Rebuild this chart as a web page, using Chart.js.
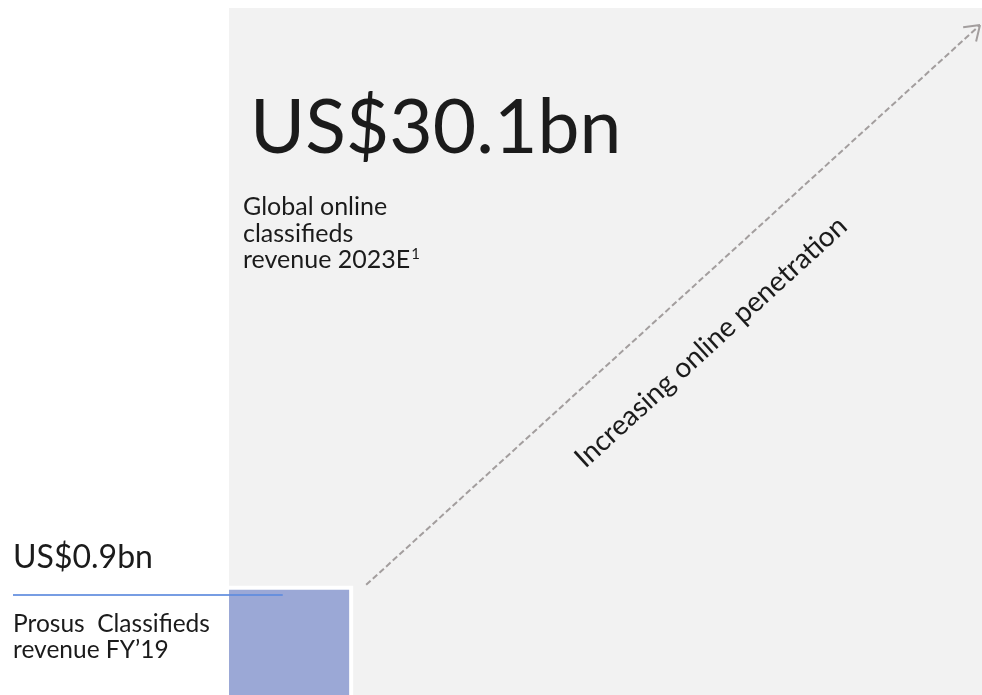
<!DOCTYPE html>
<html>
<head>
<meta charset="utf-8">
<script src="https://cdn.jsdelivr.net/npm/chart.js@4.4.1/dist/chart.umd.min.js"></script>
<style>
  html, body { margin: 0; padding: 0; background: #fff; }
  #chart { display: block; }
</style>
</head>
<body>
<canvas id="chart" width="982" height="695"></canvas>
<script>
// revenue in US$ bn, drawn as squares whose area follows the value
const segments = ["Global online classifieds", "Prosus Classifieds"];
const revenueBn = [30.1, 0.9];
const captions = [
  ["Global online", "classifieds", "revenue 2023E"],
  ["Prosus  Classifieds", "revenue FY\u201919"]
];
const footnotes = ["1", ""];
const arrowText = "Increasing online penetration";

const FONT = "Lato, 'Open Sans', sans-serif";
const TEXT = "#1b1b1b";

const sides = revenueBn.map((v) => Math.sqrt(v));
const maxSide = Math.max(...sides);

function squarePoints(side) {
  return [{ x: 0, y: 0 }, { x: 0, y: side }, { x: side, y: side }, { x: side, y: 0 }];
}

function fmtBn(v) {
  return "US$" + v.toFixed(1) + "bn";
}

// === labels, leader line and dashed arrow ===
const annotations = {
  id: "annotations",
  afterDatasetsDraw(chart) {
    const { ctx, chartArea } = chart;
    const x = chart.scales.x;
    const y = chart.scales.y;
    const left = chartArea.left;
    const big = { top: Math.max(chartArea.top, y.getPixelForValue(sides[0])), right: Math.min(chartArea.right, x.getPixelForValue(sides[0])) };
    const small = { top: y.getPixelForValue(sides[1]), right: x.getPixelForValue(sides[1]) };

    ctx.save();
    ctx.fillStyle = TEXT;
    ctx.textBaseline = "alphabetic";
    ctx.textAlign = "left";

    // big market figure
    ctx.font = "75px " + FONT;
    ctx.fillText(fmtBn(revenueBn[0]), left + 21, big.top + 145);
    ctx.font = "25px " + FONT;
    captions[0].forEach((line, i) => {
      const by = big.top + 207 + i * 26.5;
      ctx.fillText(line, left + 14, by);
      if (i === captions[0].length - 1 && footnotes[0]) {
        const w = ctx.measureText(line).width;
        ctx.font = "15px " + FONT;
        ctx.fillText(footnotes[0], left + 15 + w, by - 9);
        ctx.font = "25px " + FONT;
      }
    });

    // Prosus figure on the left
    ctx.font = "32px " + FONT;
    ctx.fillText(fmtBn(revenueBn[1]), 13, 568);
    ctx.font = "24.5px " + FONT;
    captions[1].forEach((line, i) => ctx.fillText(line, 13, 632 + i * 26));

    ctx.strokeStyle = "rgba(95,140,222,0.85)";
    ctx.lineWidth = 2;
    ctx.beginPath();
    ctx.moveTo(13, 595);
    ctx.lineTo(left + (small.right - left) * 0.44, 595);
    ctx.stroke();

    // dashed arrow between the two squares
    const sx = small.right + 15, sy = small.top - 3;
    const ex = big.right - 2, ey = big.top + 17;
    const ang = Math.atan2(ey - sy, ex - sx);
    ctx.strokeStyle = "#a39e9e";
    ctx.lineWidth = 2;
    ctx.setLineDash([6, 3]);
    ctx.beginPath();
    ctx.moveTo(sx, sy);
    ctx.lineTo(ex, ey);
    ctx.stroke();
    ctx.setLineDash([]);
    ctx.beginPath();
    [0.6, -0.6].forEach((d) => {
      ctx.moveTo(ex, ey);
      ctx.lineTo(ex - 17 * Math.cos(ang + d), ey - 17 * Math.sin(ang + d));
    });
    ctx.stroke();

    ctx.translate((sx + ex) / 2, (sy + ey) / 2);
    ctx.rotate(ang);
    ctx.textAlign = "center";
    ctx.font = "28px " + FONT;
    ctx.fillStyle = TEXT;
    ctx.fillText(arrowText, 3, 62);
    ctx.restore();
  }
};

const ctx = document.getElementById("chart").getContext("2d");
new Chart(ctx, {
  type: "scatter",
  data: {
    datasets: [
      {
        label: segments[1],
        data: squarePoints(sides[1]),
        showLine: true,
        fill: "origin",
        backgroundColor: "#9ba8d6",
        borderColor: "#ffffff",
        borderWidth: 4,
        pointRadius: 0,
        order: 0
      },
      {
        label: segments[0],
        data: squarePoints(sides[0]),
        showLine: true,
        fill: "origin",
        backgroundColor: "#f2f2f2",
        borderColor: "rgba(0,0,0,0)",
        borderWidth: 0,
        pointRadius: 0,
        order: 1
      }
    ]
  },
  options: {
    responsive: false,
    animation: false,
    layout: { padding: { left: 229, top: 8, right: 0, bottom: 0 } },
    scales: {
      // the view is cropped a little at the bottom-left corner of both squares
      x: { type: "linear", display: false, min: 0.07, max: maxSide },
      y: { type: "linear", display: false, min: 0.11, max: maxSide }
    },
    plugins: {
      legend: { display: false },
      tooltip: { enabled: false }
    }
  },
  plugins: [annotations]
});
</script>
</body>
</html>
